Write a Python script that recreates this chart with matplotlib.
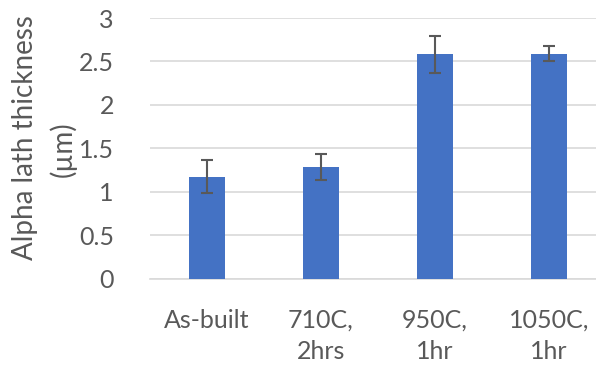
import matplotlib.pyplot as plt
import numpy as np

plt.rcParams['font.family'] = ['Lato', 'DejaVu Sans']

categories = ['As-built', '710C,\n2hrs', '950C,\n1hr', '1050C,\n1hr']
thickness = [1.17, 1.28, 2.58, 2.59]
errors = [0.19, 0.15, 0.21, 0.085]

W, H = 596, 371
fig = plt.figure(figsize=(W / 100, H / 100), dpi=100)
# axes in pixel terms: left 150, right 606, bottom 278.5, top 18
ax = fig.add_axes([150 / W, (H - 278.5) / H, 456 / W, 260.5 / H])

x = np.arange(len(categories))
ax.bar(x, thickness, width=0.31, color='#4472C4', zorder=3,
       yerr=errors, error_kw=dict(ecolor='#595959', elinewidth=1.5, capsize=4, capthick=1.5))

ax.set_xlim(-0.5, 3.5)
ax.set_ylim(0, 3)
ax.set_yticks(np.arange(0, 3.01, 0.5))
ax.set_yticklabels(['0', '0.5', '1', '1.5', '2', '2.5', '3'])
ax.set_xticks(x)
ax.set_xticklabels(categories, linespacing=1.4)
ax.yaxis.grid(True, color='#D9D9D9', linewidth=1.2, zorder=0)
for s in ['top', 'right', 'left']:
    ax.spines[s].set_visible(False)
ax.spines['bottom'].set_color('#D9D9D9')
ax.spines['bottom'].set_linewidth(1.2)
ax.tick_params(axis='both', length=0, labelsize=18, colors='#595959')
ax.tick_params(axis='y', pad=26)
ax.tick_params(axis='x', pad=22)

fig.text(25 / W, 1 - 138 / H, 'Alpha lath thickness', rotation=90, fontsize=20,
         color='#595959', ha='center', va='center')
fig.text(63 / W, 1 - 149 / H, '(µm)', rotation=90, fontsize=20,
         color='#595959', ha='center', va='center')

fig.savefig('out.png', dpi=100)
